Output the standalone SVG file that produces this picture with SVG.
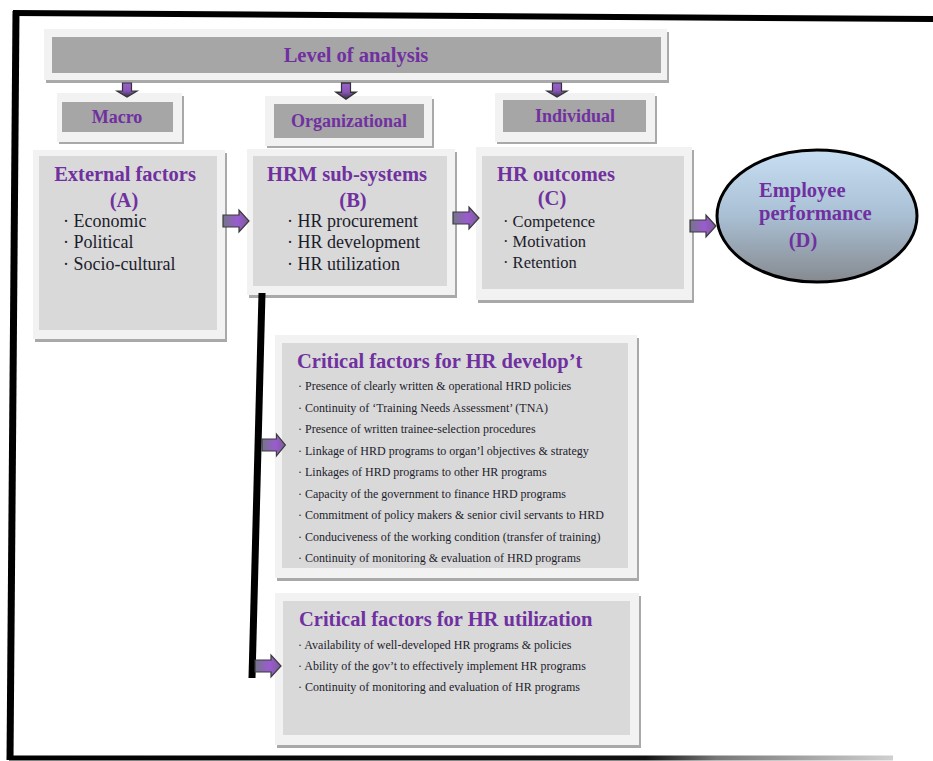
<svg xmlns="http://www.w3.org/2000/svg" width="933" height="761" viewBox="0 0 933 761">
<defs>
<style>
.frame{fill:#f2f2f2}
.shadow{fill:#a9a9a9}
.hdr{fill:#a6a6a6}
.inner{fill:#d9d9d9}
.title{font-family:"Liberation Serif",serif;font-weight:bold;fill:#7030a0;font-size:20.5px}
.lvl{font-size:18px}
.item{font-family:"Liberation Serif",serif;fill:#1c1c2c;font-size:18px}
.mid{font-size:16.5px}
.small{font-size:12px}
.arrow{fill:url(#arrowGrad);stroke:#3a3a3a;stroke-width:1.2}
.darrow{fill:url(#downGrad);stroke:#333;stroke-width:1.2}
</style>
<linearGradient id="arrowGrad" x1="0" y1="0" x2="1" y2="0">
<stop offset="0" stop-color="#74748a"/>
<stop offset="0.55" stop-color="#9a5ccf"/>
<stop offset="1" stop-color="#7a5a98"/>
</linearGradient>
<linearGradient id="downGrad" x1="0" y1="0" x2="0" y2="1">
<stop offset="0" stop-color="#9a62cc"/>
<stop offset="0.55" stop-color="#8a56b8"/>
<stop offset="1" stop-color="#3a3346"/>
</linearGradient>
<linearGradient id="ellGrad" x1="0" y1="0" x2="0" y2="1">
<stop offset="0" stop-color="#c8def2"/>
<stop offset="0.5" stop-color="#a9bfd3"/>
<stop offset="1" stop-color="#868a90"/>
</linearGradient>
<linearGradient id="bottomGrad" gradientUnits="userSpaceOnUse" x1="9" y1="0" x2="893" y2="0">
<stop offset="0" stop-color="#000"/>
<stop offset="0.72" stop-color="#111"/>
<stop offset="0.8" stop-color="#777"/>
<stop offset="1" stop-color="#d0d0d0"/>
</linearGradient>
<path id="rarrow" d="M0,-6 H16 V-11 L26,0 L16,11 V6 H0 Z"/>
<path id="darr" d="M-4.5,0 V8 H-10 L0,14 L10,8 H4.5 V0 Z"/>
</defs>

<g id="outer-frame">
<line x1="13" y1="13" x2="933" y2="19" stroke="#000" stroke-width="6"/>
<line x1="16" y1="11" x2="10" y2="760" stroke="#000" stroke-width="7"/>
<line x1="9" y1="758" x2="893" y2="758" stroke="url(#bottomGrad)" stroke-width="5"/>
</g>

<g id="level-of-analysis">
<rect class="shadow" x="46" y="32" width="623" height="51"/>
<rect class="frame" x="44" y="29" width="623" height="51"/>
<rect class="hdr" x="52" y="37" width="609" height="36"/>
<text class="title" x="356" y="62" text-anchor="middle">Level of analysis</text>
</g>

<g id="macro">
<rect class="shadow" x="59" y="96" width="125" height="48"/>
<rect class="frame" x="57" y="93" width="125" height="49"/>
<rect class="hdr" x="62" y="102" width="111" height="30"/>
<text class="title lvl" x="117" y="123" text-anchor="middle">Macro</text>
</g>

<g id="organizational">
<rect class="shadow" x="267" y="99" width="167" height="49"/>
<rect class="frame" x="265" y="96" width="167" height="50"/>
<rect class="hdr" x="274" y="104" width="150" height="34"/>
<text class="title lvl" x="349" y="127" text-anchor="middle">Organizational</text>
</g>

<g id="individual">
<rect class="shadow" x="497" y="96" width="160" height="48"/>
<rect class="frame" x="495" y="93" width="160" height="49"/>
<rect class="hdr" x="503" y="100" width="143" height="32"/>
<text class="title lvl" x="575" y="122" text-anchor="middle">Individual</text>
</g>

<g id="external-factors">
<rect class="shadow" x="35" y="153" width="192" height="189"/>
<rect class="frame" x="33" y="150" width="192" height="189"/>
<rect class="inner" x="39" y="156" width="178" height="174"/>
<text class="title" x="125" y="181" text-anchor="middle">External factors</text>
<text class="title" x="124" y="207" text-anchor="middle">(A)</text>
<text class="item" x="63" y="227">· Economic</text>
<text class="item" x="63" y="248">· Political</text>
<text class="item" x="63" y="270">· Socio-cultural</text>
</g>

<g id="hrm-subsystems">
<rect class="shadow" x="249" y="152" width="208" height="146"/>
<rect class="frame" x="247" y="149" width="208" height="146"/>
<rect class="inner" x="253" y="156" width="194" height="130"/>
<text class="title" x="347" y="181" text-anchor="middle">HRM sub-systems</text>
<text class="title" x="353" y="207" text-anchor="middle">(B)</text>
<text class="item" x="287" y="227">· HR procurement</text>
<text class="item" x="287" y="248">· HR development</text>
<text class="item" x="287" y="270">· HR utilization</text>
</g>

<g id="hr-outcomes">
<rect class="shadow" x="478" y="150" width="216" height="153"/>
<rect class="frame" x="476" y="147" width="216" height="153"/>
<rect class="inner" x="482" y="156" width="202" height="133"/>
<text class="title" x="497" y="181">HR outcomes</text>
<text class="title" x="552" y="205" text-anchor="middle">(C)</text>
<text class="item mid" x="503" y="227">· Competence</text>
<text class="item mid" x="503" y="247">· Motivation</text>
<text class="item mid" x="503" y="268">· Retention</text>
</g>

<g id="employee-performance">
<ellipse cx="817" cy="216" rx="100" ry="66" fill="url(#ellGrad)" stroke="#000" stroke-width="3"/>
<text class="title" x="759" y="197">Employee</text>
<text class="title" x="759" y="220">performance</text>
<text class="title" x="803" y="247" text-anchor="middle">(D)</text>
</g>

<g id="hr-development-factors">
<rect class="shadow" x="277" y="338" width="362" height="243"/>
<rect class="frame" x="275" y="335" width="362" height="243"/>
<rect class="inner" x="282" y="343" width="346" height="225"/>
<text class="title" x="297" y="368">Critical factors for HR develop’t</text>
<g class="item small">
<text x="298" y="390">· Presence of clearly written &amp; operational HRD policies</text>
<text x="298" y="412">· Continuity of ‘Training Needs Assessment’ (TNA)</text>
<text x="298" y="433">· Presence of written trainee-selection procedures</text>
<text x="298" y="455">· Linkage of HRD programs to organ’l objectives &amp; strategy</text>
<text x="298" y="476">· Linkages of HRD programs to other HR programs</text>
<text x="298" y="498">· Capacity of the government to finance HRD programs</text>
<text x="298" y="519">· Commitment of policy makers &amp; senior civil servants to HRD</text>
<text x="298" y="541">· Conduciveness of the working condition (transfer of training)</text>
<text x="298" y="562">· Continuity of monitoring &amp; evaluation of HRD programs</text>
</g>
</g>

<g id="hr-utilization-factors">
<rect class="shadow" x="277" y="596" width="364" height="152"/>
<rect class="frame" x="275" y="593" width="364" height="152"/>
<rect class="inner" x="283" y="601" width="347" height="134"/>
<text class="title" x="299" y="626">Critical factors for HR utilization</text>
<g class="item small">
<text x="298" y="649">· Availability of well-developed HR programs &amp; policies</text>
<text x="298" y="670">· Ability of the gov’t to effectively implement HR programs</text>
<text x="298" y="691">· Continuity of monitoring and evaluation of HR programs</text>
</g>
</g>

<g id="connectors">
<use href="#darr" class="darrow" transform="translate(127,83)"/>
<use href="#darr" class="darrow" transform="translate(346,83) scale(1,1.15)"/>
<use href="#darr" class="darrow" transform="translate(557,83)"/>
<use href="#rarrow" class="arrow" transform="translate(223,221)"/>
<use href="#rarrow" class="arrow" transform="translate(453,218)"/>
<use href="#rarrow" class="arrow" transform="translate(690,226)"/>
<line x1="262" y1="293" x2="252" y2="678" stroke="#000" stroke-width="7"/>
<use href="#rarrow" class="arrow" transform="translate(262,445) scale(0.9,1)"/>
<use href="#rarrow" class="arrow" transform="translate(255,666)"/>
</g>
</svg>
